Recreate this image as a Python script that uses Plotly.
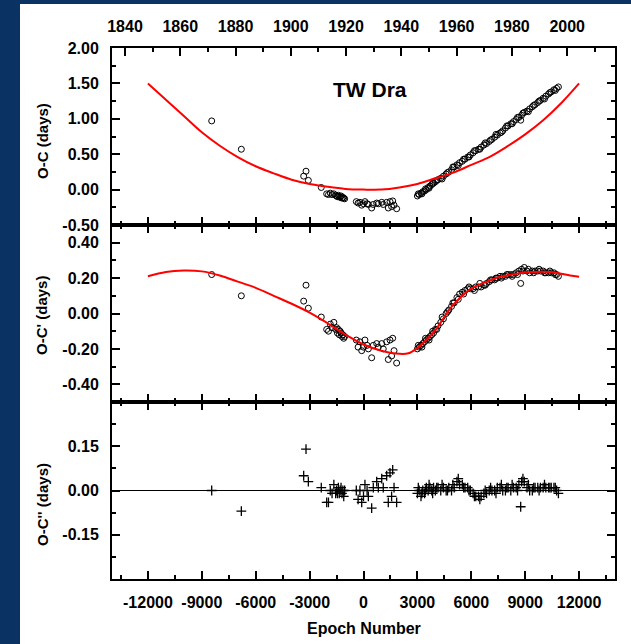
import plotly.graph_objects as go

# ---------------- data ----------------
# older timings (epoch, O-C, O-C', O-C'')
epoch_old = [-8450, -6800, -3330, -3200, -3070, -2350, -2050, -1950, -1850, -1750,
             -1650, -1550, -1500, -1450, -1400, -1350, -1300, -1250, -1200, -1150,
             -1100, -1050, -400, -300, -200, -100, 0, 80, 200, 270,
             455, 545, 735, 825, 1015, 1100, 1290, 1380, 1475, 1565,
             1625, 1700, 1845]
oc_old = [0.97, 0.57, 0.19, 0.26, 0.13, 0.03, -0.06, -0.07, -0.05, -0.07,
          -0.06, -0.08, -0.09, -0.10, -0.08, -0.10, -0.11, -0.09, -0.12, -0.11,
          -0.12, -0.13, -0.17, -0.19, -0.18, -0.22, -0.20, -0.17, -0.20, -0.21,
          -0.26, -0.21, -0.19, -0.20, -0.18, -0.21, -0.18, -0.26, -0.17, -0.24,
          -0.16, -0.22, -0.27]
ocp_old = [0.22, 0.10, 0.07, 0.16, 0.03, -0.02, -0.09, -0.10, -0.06, -0.08,
           -0.05, -0.09, -0.08, -0.11, -0.09, -0.12, -0.10, -0.11, -0.13, -0.12,
           -0.14, -0.13, -0.15, -0.19, -0.16, -0.21, -0.19, -0.15, -0.18, -0.20,
           -0.25, -0.18, -0.17, -0.19, -0.17, -0.20, -0.16, -0.26, -0.15, -0.24,
           -0.14, -0.21, -0.28]
ocpp_old = [0.00, -0.07, 0.05, 0.14, 0.03, 0.01, -0.04, -0.04, 0.00, -0.01,
            0.02, -0.01, 0.00, -0.01, 0.01, -0.01, 0.00, 0.01, -0.01, 0.00,
            -0.02, 0.00, 0.00, -0.03, 0.00, -0.04, -0.02, 0.02, 0.00, -0.02,
            -0.06, 0.01, 0.03, 0.01, 0.04, 0.01, 0.05, -0.04, 0.06, -0.02,
            0.07, 0.01, -0.04]

# modern timings
epoch_new = [3000, 3100, 3200, 3300, 3400, 3500, 3600, 3700, 3800, 3900,
             4000, 4150, 4300, 4450, 4600, 4750, 4900, 5050, 5200, 5350,
             5500, 5650, 5800, 5950, 6100, 6250, 6400, 6550, 6700, 6850,
             7000, 7150, 7300, 7450, 7600, 7750, 7900, 8050, 8200, 8350,
             8500, 8650, 8800, 8950, 9100, 9250, 9400, 9550, 9700, 9850,
             10000, 10150, 10300, 10450, 10600, 10750, 10850, 8750,
             3050, 3250, 3450, 3650, 3850, 4075, 4375, 4675, 4975, 5275,
             5575, 5875, 6175, 6475, 6775, 7075, 7375, 7675, 7975, 8275,
             8575, 8875, 9175, 9475, 9775, 10075, 10375, 10675]
oc_new = [-0.09, -0.07, -0.05, -0.03, -0.02, 0.00, 0.03, 0.05, 0.07, 0.09,
          0.11, 0.14, 0.16, 0.19, 0.22, 0.25, 0.28, 0.32, 0.35, 0.38,
          0.40, 0.43, 0.46, 0.49, 0.52, 0.55, 0.57, 0.60, 0.63, 0.65,
          0.68, 0.71, 0.74, 0.77, 0.80, 0.83, 0.87, 0.90, 0.93, 0.96,
          0.99, 1.02, 1.05, 1.09, 1.11, 1.14, 1.17, 1.20, 1.23, 1.26,
          1.29, 1.32, 1.35, 1.38, 1.41, 1.43, 1.45, 0.98,
          -0.06, -0.06, 0.01, 0.02, 0.09, 0.13, 0.15, 0.24, 0.32, 0.34,
          0.43, 0.46, 0.55, 0.57, 0.66, 0.70, 0.78, 0.81, 0.90, 0.93,
          1.02, 1.08, 1.10, 1.19, 1.25, 1.28, 1.37, 1.40]
ocp_new = [-0.20, -0.19, -0.18, -0.17, -0.16, -0.15, -0.14, -0.13, -0.12, -0.11,
           -0.09, -0.07, -0.05, -0.03, 0.00, 0.02, 0.04, 0.06, 0.09, 0.11,
           0.12, 0.13, 0.14, 0.14, 0.14, 0.15, 0.15, 0.15, 0.16, 0.17,
           0.18, 0.19, 0.19, 0.20, 0.21, 0.21, 0.21, 0.22, 0.22, 0.22,
           0.23, 0.24, 0.25, 0.26, 0.24, 0.23, 0.24, 0.24, 0.24, 0.24,
           0.24, 0.23, 0.23, 0.23, 0.23, 0.22, 0.21, 0.17,
           -0.18, -0.19, -0.14, -0.15, -0.10, -0.09, -0.02, 0.01, 0.06, 0.08,
           0.11, 0.15, 0.13, 0.17, 0.16, 0.19, 0.20, 0.20, 0.22, 0.21,
           0.22, 0.24, 0.25, 0.23, 0.25, 0.23, 0.24, 0.22]
ocpp_new = [-0.01, 0.00, -0.02, 0.00, -0.01, 0.01, 0.00, 0.01, 0.00, 0.01,
            0.00, 0.01, 0.00, 0.01, 0.00, 0.01, 0.00, 0.01, 0.03, 0.02,
            0.02, 0.01, 0.01, 0.00, -0.01, -0.02, -0.02, -0.02, -0.01, -0.01,
            0.00, 0.00, 0.00, 0.01, 0.01, 0.00, 0.00, 0.01, 0.00, 0.01,
            0.01, 0.02, 0.03, 0.03, 0.01, 0.00, 0.00, 0.01, 0.01, 0.01,
            0.01, 0.01, 0.01, 0.01, 0.01, 0.00, -0.01, -0.055,
            0.01, -0.01, 0.00, 0.02, -0.01, 0.01, 0.02, 0.00, 0.02, 0.04,
            0.01, 0.00, -0.02, -0.03, 0.00, 0.01, -0.01, 0.02, 0.01, 0.02,
            0.00, 0.04, 0.02, 0.01, 0.00, 0.02, 0.01, 0.01]

# fitted curves
fit1_epoch = [-12000, -11000, -10000, -9000, -8000, -7000, -6000, -5000, -4000, -3000,
              -2000, -1000, 0, 1000, 2000, 3000, 4000, 5000, 6000, 7000,
              8000, 9000, 10000, 11000, 12000]
fit1_oc = [1.50, 1.27, 1.04, 0.81, 0.62, 0.46, 0.33, 0.23, 0.14, 0.08,
           0.04, 0.01, 0.00, 0.00, 0.03, 0.08, 0.16, 0.24, 0.35, 0.46,
           0.61, 0.78, 0.98, 1.22, 1.50]
fit2_epoch = [-12000, -11000, -10000, -9000, -8000, -7000, -6000, -5000, -4000, -3000,
              -2000, -1000, 0, 1000, 2000, 2500, 3000, 3500, 4000, 4500,
              5000, 5500, 6000, 6500, 7000, 7500, 8000, 8500, 9000, 9500,
              10000, 10500, 11000, 11500, 12000]
fit2_ocp = [0.21, 0.235, 0.243, 0.238, 0.215, 0.18, 0.145, 0.10, 0.055, 0.005,
            -0.055, -0.12, -0.175, -0.21, -0.228, -0.225, -0.195, -0.15, -0.095, -0.02,
            0.05, 0.10, 0.14, 0.165, 0.185, 0.205, 0.215, 0.225, 0.232, 0.235,
            0.236, 0.233, 0.225, 0.215, 0.208]

# tick labels
epoch_ticks = [-12000, -9000, -6000, -3000, 0, 3000, 6000, 9000, 12000]
epoch_labels = ["-12000", "-9000", "-6000", "-3000", "0", "3000", "6000", "9000", "12000"]
year_ticks = [1840, 1860, 1880, 1900, 1920, 1940, 1960, 1980, 2000]
year_labels = [str(y) for y in year_ticks]
y1_ticks = [-0.5, 0.0, 0.5, 1.0, 1.5, 2.0]
y1_labels = ["-0.50", "0.00", "0.50", "1.00", "1.50", "2.00"]
y2_ticks = [-0.4, -0.2, 0.0, 0.2, 0.4]
y2_labels = ["-0.40", "-0.20", "0.00", "0.20", "0.40"]
y3_ticks = [-0.15, 0.0, 0.15]
y3_labels = ["-0.15", "0.00", "0.15"]

# ---------------- figure ----------------
FONT = "Liberation Sans, Arial, sans-serif"
W, H = 631, 644
ML, MR, MT, MB = 112, 16, 48, 65
PW, PH = W - ML - MR, H - MT - MB


def px_x(p):
    return (p - ML) / PW


def px_y(p):
    return (H - MB - p) / PH


fig = go.Figure()

circ = dict(symbol="circle-open", size=6, color="black", line=dict(color="black", width=1))
fig.add_trace(go.Scatter(x=epoch_old + epoch_new, y=oc_old + oc_new, mode="markers",
                         marker=circ, xaxis="x", yaxis="y", showlegend=False))
fig.add_trace(go.Scatter(x=fit1_epoch, y=fit1_oc, mode="lines",
                         line=dict(color="#ff0000", width=2, shape="spline"),
                         xaxis="x", yaxis="y", showlegend=False))
fig.add_trace(go.Scatter(x=epoch_old + epoch_new, y=ocp_old + ocp_new, mode="markers",
                         marker=circ, xaxis="x2", yaxis="y2", showlegend=False))
fig.add_trace(go.Scatter(x=fit2_epoch, y=fit2_ocp, mode="lines",
                         line=dict(color="#ff0000", width=2, shape="spline"),
                         xaxis="x2", yaxis="y2", showlegend=False))
fig.add_trace(go.Scatter(x=epoch_old + epoch_new, y=ocpp_old + ocpp_new, mode="markers",
                         marker=dict(symbol="cross-thin-open", size=7, color="black",
                                     line=dict(color="black", width=1.3)),
                         xaxis="x3", yaxis="y3", showlegend=False))
# empty trace so that the calendar-year axis on top is drawn
fig.add_trace(go.Scatter(x=year_ticks, y=[None] * len(year_ticks), mode="markers",
                         xaxis="x4", yaxis="y", showlegend=False, hoverinfo="skip"))

tickfont = dict(family=FONT, size=16, color="black", weight="bold")
base = dict(showline=True, linecolor="black", linewidth=2, ticks="inside", ticklen=8,
            tickwidth=2, tickcolor="black", showgrid=False, zeroline=False,
            tickfont=tickfont, tickmode="array", ticklabelstandoff=8)


def minor(dtick):
    return dict(ticks="inside", ticklen=4, tickwidth=2, tickcolor="black",
                tick0=0, dtick=dtick, showgrid=False)


fig.update_layout(
    width=W, height=H,
    margin=dict(l=ML, r=MR, t=MT, b=MB, pad=0),
    paper_bgcolor="white", plot_bgcolor="white",
    xaxis=dict(base, domain=[0, 1], anchor="y", range=[-14000, 14000],
               tickvals=epoch_ticks, ticktext=epoch_labels, showticklabels=False,
               minor=minor(1500), mirror=False),
    xaxis2=dict(base, domain=[0, 1], anchor="y2", range=[-14000, 14000], matches="x",
                tickvals=epoch_ticks, ticktext=epoch_labels, showticklabels=False,
                minor=minor(1500), mirror="ticks"),
    xaxis3=dict(base, domain=[0, 1], anchor="y3", range=[-14000, 14000], matches="x",
                tickvals=epoch_ticks, ticktext=epoch_labels, showticklabels=True,
                minor=minor(1500), mirror="ticks"),
    xaxis4=dict(base, overlaying="x", anchor="y", side="top", range=[1835.3, 2017.3],
                tickvals=year_ticks, ticktext=year_labels, minor=minor(10)),
    yaxis=dict(base, domain=[2 / 3, 1], anchor="x", range=[-0.5, 2.0],
               tickvals=y1_ticks, ticktext=y1_labels, minor=minor(0.25), mirror="ticks"),
    yaxis2=dict(base, domain=[1 / 3, 2 / 3], anchor="x2", range=[-0.5, 0.5],
                tickvals=y2_ticks, ticktext=y2_labels, minor=minor(0.1), mirror="ticks"),
    yaxis3=dict(base, domain=[0, 1 / 3], anchor="x3", range=[-0.3, 0.3],
                tickvals=y3_ticks, ticktext=y3_labels, minor=minor(0.075), mirror="ticks",
                zeroline=True, zerolinecolor="black", zerolinewidth=1),
)

BLUE = "#0a3263"
fig.add_shape(type="rect", xref="paper", yref="paper", x0=px_x(0), x1=px_x(20),
              y0=px_y(H), y1=px_y(0), fillcolor=BLUE, line=dict(width=0), layer="below")
fig.add_shape(type="rect", xref="paper", yref="paper", x0=px_x(0), x1=px_x(W),
              y0=px_y(4), y1=px_y(0), fillcolor=BLUE, line=dict(width=0), layer="below")

titlefont = dict(family=FONT, size=15, color="black", weight="bold")
for txt, yc in [("O-C (days)", 141), ("O-C' (days)", 316), ("O-C'' (days)", 505)]:
    fig.add_annotation(text=txt, xref="paper", yref="paper", x=px_x(42), y=px_y(yc),
                       textangle=-90, showarrow=False, font=titlefont,
                       xanchor="center", yanchor="middle")
fig.add_annotation(text="Epoch Number", xref="paper", yref="paper", x=px_x(363.5), y=px_y(628),
                   showarrow=False, font=dict(titlefont, size=16),
                   xanchor="center", yanchor="middle")
fig.add_annotation(text="TW Dra", xref="paper", yref="paper", x=px_x(370), y=px_y(89),
                   showarrow=False, font=dict(family=FONT, size=21, color="black", weight="bold"),
                   xanchor="center", yanchor="middle")

fig.write_html("out.html")
